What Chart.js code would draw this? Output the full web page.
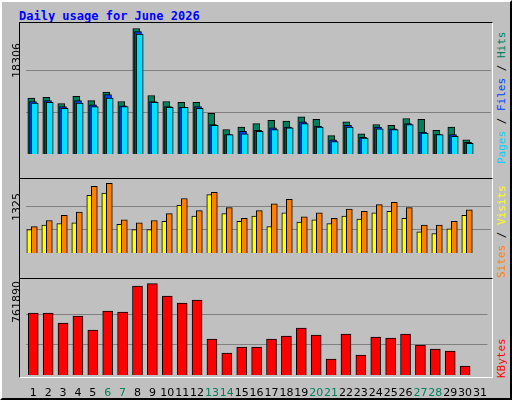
<!DOCTYPE html>
<html><head><meta charset="utf-8">
<script src="https://cdn.jsdelivr.net/npm/chart.js@4"></script>
<style>
html,body{margin:0;padding:0;background:#c0c0c0;}
#wrap{position:relative;width:512px;height:400px;box-sizing:border-box;border:2px solid;border-color:#fff #000 #000 #fff;background:#c0c0c0;overflow:hidden;}
.abs{position:absolute;}
canvas.abs{display:block;}
.box{position:absolute;border:1px solid #000;border-right-color:#fff;border-bottom-color:#fff;box-sizing:border-box;}
.rot{position:absolute;transform:rotate(-90deg);transform-origin:left top;white-space:nowrap;font-family:"DejaVu Sans Mono",monospace;font-size:11px;}
#title{left:17px;top:7px;font:bold 12px "DejaVu Sans Mono",monospace;color:#0000ff;}
</style></head><body>
<div id="wrap">
<div id="title" class="abs">Daily usage for June 2026</div>
<div class="box" style="left:17px;top:20px;width:474px;height:157px"></div>
<div class="box" style="left:17px;top:176px;width:474px;height:101px"></div>
<div class="box" style="left:17px;top:276px;width:474px;height:100px"></div>
<canvas id="c1" class="abs" width="470" height="153" style="left:19px;top:22px;"></canvas>
<canvas id="c2" class="abs" width="470" height="96" style="left:19px;top:178px;"></canvas>
<canvas id="c3" class="abs" width="470" height="118" style="left:19px;top:278px;"></canvas>
<div class="rot" style="left:8px;top:76px;font-family:'DejaVu Sans',sans-serif;">18306</div>
<div class="rot" style="left:8px;top:219px;font-family:'DejaVu Sans',sans-serif;">1325</div>
<div class="rot" style="left:8px;top:321px;font-family:'DejaVu Sans',sans-serif;">761890</div>
<div class="rot" style="left:493px;top:162px;"><span style="color:#00d0ff">Pages</span> / <span style="color:#0040ff">Files</span> / <span style="color:#00805c">Hits</span></div>
<div class="rot" style="left:493px;top:276px;"><span style="color:#ff8000">Sites</span> / <span style="color:#ffff00">Visits</span></div>
<div class="rot" style="left:493px;top:376px;"><span style="color:#ff0000">KBytes</span></div>
</div>
<script>
const days = ["1","2","3","4","5","6","7","8","9","10","11","12","13","14","15","16","17","18","19","20","21","22","23","24","25","26","27","28","29","30","31"];
const weekendDays = ["6","7","13","14","20","21","27","28"];
const hits  = [8160,8284,7373,8408,7787,9030,7663,18306,8533,7663,7538,7538,5923,3562,3935,4432,4929,4805,5426,5053,2692,4680,2941,4308,4183,5178,5053,3438,3935,2071,null];
const files = [7663,7787,6917,7787,7166,8657,7041,17852,7663,6917,6793,6917,4308,2817,3314,3438,3811,3935,4680,4059,2071,4183,2444,3935,3686,4432,3189,2817,2817,1698,null];
const pages = [7414,7538,6669,7414,6917,8160,6917,17479,7538,6793,6793,6669,4183,2817,2941,3314,3562,3811,4432,3935,1822,3935,2320,3686,3562,4308,3065,2817,2568,1574,null];
const sites = [443,530,559,573,1094,1137,544,443,443,602,906,703,1108,747,602,703,501,761,588,631,559,703,646,761,790,660,400,371,458,718,null];
const visits= [501,617,718,776,1267,1325,631,573,617,747,1036,805,1151,862,660,805,935,1021,689,761,660,833,790,920,964,862,530,530,602,819,null];
const kbytes= [517210,517210,433790,492180,375390,533890,525550,742450,761890,659030,600630,625660,300310,183530,233580,233580,300310,325340,392080,333680,133470,342030,166840,317000,308660,342030,250260,216890,200210,75080,null];
const maxHits=18306, maxVisits=1325, maxKB=761890;

const shift = {id:'shift',
  beforeDatasetDraw(c,a){const dx=c.data.datasets[a.index].dx||0;c.ctx.save();c.ctx.translate(dx,0);},
  afterDatasetDraw(c){c.ctx.restore();}};

function mk(id,ds,max,topRatio,showX){
  new Chart(document.getElementById(id),{type:'bar',
    data:{labels:days,datasets:ds.map(d=>Object.assign({grouped:false,borderColor:'#000',borderWidth:1,borderSkipped:'bottom'},d))},
    plugins:[shift],
    options:{responsive:false,animation:false,devicePixelRatio:1,
      layout:{padding:{left:4.8,right:0.2,top:0,bottom:0}},
      plugins:{legend:{display:false},tooltip:{enabled:false}},
      scales:{
        x:{display:showX,grid:{display:false},border:{display:false},
           ticks:{padding:4,autoSkip:false,maxRotation:0,font:{family:'DejaVu Sans',size:11},
             color:(ctx)=>weekendDays.includes(days[ctx.index])?'#00805c':'#000'},
           afterFit:s=>{s.height=23;}},
        y:{min:0,max:max*topRatio,border:{display:false},
           grid:{color:'#808080',lineWidth:1,drawTicks:false},
           ticks:{display:false},
           afterBuildTicks:s=>{s.ticks=[{value:max/3},{value:2*max/3}];},
           afterFit:s=>{s.width=0;}}
      }}});
}
mk('c1',[
  {data:hits,backgroundColor:'#00805c',barThickness:7,dx:-2,order:3},
  {data:files,backgroundColor:'#0040ff',barThickness:7,dx:-0.3,order:2},
  {data:pages,backgroundColor:'#00e0ff',barThickness:7,dx:1.4,order:1}],maxHits,152.7/147.4,false);
mk('c2',[
  {data:sites,backgroundColor:'#ffff00',barThickness:5,dx:-4,order:2},
  {data:visits,backgroundColor:'#ff8000',barThickness:6,dx:1,order:1}],maxVisits,96/91.7,false);
mk('c3',[
  {data:kbytes,backgroundColor:'#ff0000',barThickness:10,dx:0}],maxKB,95/91.3,true);
</script>
</body></html>
